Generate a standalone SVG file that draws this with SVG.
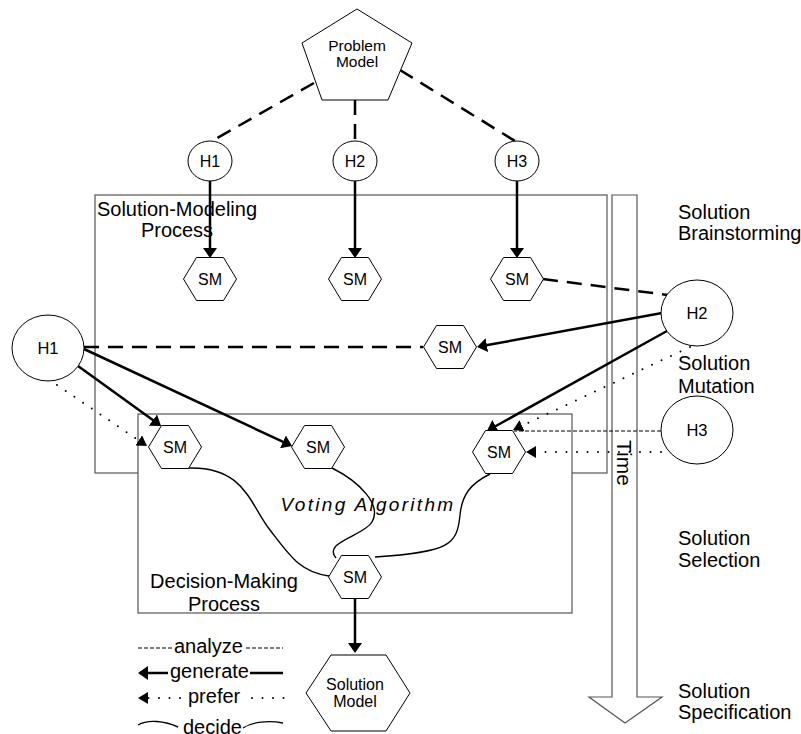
<svg xmlns="http://www.w3.org/2000/svg" width="801" height="734" viewBox="0 0 801 734">
<defs>
<style>
text{font-family:"Liberation Sans",Arial,sans-serif;fill:#000}
.lbl{font-size:20px}
.mid{text-anchor:middle}
.nd{font-size:16px;text-anchor:middle}
.shape{fill:#fff;stroke:#000;stroke-width:1}
.box{fill:none;stroke:#555;stroke-width:1.2}
.gen{fill:none;stroke:#000;stroke-width:2.5}
.hyp{fill:none;stroke:#000;stroke-width:2.5;stroke-dasharray:15 9}
.ana{fill:none;stroke:#000;stroke-width:1;stroke-dasharray:4 2}
.pref{fill:none;stroke:#000;stroke-width:2;stroke-dasharray:0 10.5;stroke-linecap:round}
.dec{fill:none;stroke:#000;stroke-width:1.4}
</style>
<marker id="ah" viewBox="0 0 10 14" refX="8" refY="7" markerWidth="10" markerHeight="14" markerUnits="userSpaceOnUse" orient="auto"><path d="M0,0L10,7L0,14z"/></marker>
<marker id="ap" viewBox="0 0 10 12" refX="10" refY="6" markerWidth="10" markerHeight="12" markerUnits="userSpaceOnUse" orient="auto"><path d="M0,0L10,6L0,12z"/></marker>
<polygon id="hex" points="-26.5,0 -13.5,-21.5 13.5,-21.5 26.5,0 13.5,21.5 -13.5,21.5"/>
</defs>

<!-- process containers -->
<g id="solution-modeling-process">
<rect class="box" x="95" y="195" width="512" height="278"/>
</g>
<g id="time-axis">
<polygon class="box" points="612,195 637,195 637,697 662,697 625,723 589,697 612,697"/>
<text transform="translate(617,463) rotate(90)" text-anchor="middle" style="font-size:21px">Time</text>
</g>
<g id="decision-making-process">
<rect class="box" x="138" y="414" width="434" height="199" style="fill:#fff"/>
</g>
<text class="lbl mid" x="177" y="216">Solution-Modeling</text>
<text class="lbl mid" x="177" y="237">Process</text>
<text class="lbl mid" x="224" y="588">Decision-Making</text>
<text class="lbl mid" x="224" y="611">Process</text>
<text x="368" y="511" text-anchor="middle" style="font-size:19px;font-style:italic;letter-spacing:2.3px">Voting Algorithm</text>

<!-- connectors -->
<g id="connectors">
<line class="hyp" x1="314" y1="83" x2="212" y2="141"/>
<line class="hyp" x1="355" y1="100" x2="355" y2="141"/>
<line class="hyp" x1="400" y1="70" x2="515" y2="141"/>
<line class="gen" x1="210" y1="181" x2="210" y2="256" marker-end="url(#ah)"/>
<line class="gen" x1="355" y1="181" x2="355" y2="256" marker-end="url(#ah)"/>
<line class="gen" x1="517" y1="181" x2="517" y2="256" marker-end="url(#ah)"/>
<line class="hyp" x1="543" y1="279" x2="668" y2="295"/>
<line class="hyp" x1="84" y1="347" x2="423" y2="347"/>
<line class="gen" x1="662" y1="313" x2="479" y2="346.6" marker-end="url(#ah)"/>
<line class="gen" x1="667" y1="331" x2="488.7" y2="430" marker-end="url(#ah)"/>
<line class="gen" x1="78" y1="366" x2="159.4" y2="424.8" marker-end="url(#ah)"/>
<line class="gen" x1="84" y1="349" x2="290.2" y2="445.2" marker-end="url(#ah)"/>
<line class="pref" x1="57" y1="385" x2="147" y2="446" marker-end="url(#ap)"/>
<line class="pref" x1="690" y1="347" x2="513" y2="430" marker-end="url(#ap)"/>
<line class="ana" x1="661" y1="431" x2="514" y2="431"/>
<line class="pref" x1="661" y1="452" x2="526" y2="452" marker-end="url(#ap)"/>
<path class="dec" d="M188,468 C245,466 250,505 270,530 C290,556 300,572 329,576"/>
<path class="dec" d="M332,468 C360,482 382,505 372,522 C364,536 322,542 336,558"/>
<path class="dec" d="M490,474 C470,484 462,495 460,515 C457,545 450,552 375,557"/>
<line class="gen" x1="355" y1="598" x2="355" y2="651" marker-end="url(#ah)"/>
</g>

<!-- nodes -->
<g id="problem-model">
<polygon class="shape" points="357,9 412,43 388,100 322,100 302,43"/>
<text class="nd" style="font-size:15.5px" x="357" y="51">Problem</text>
<text class="nd" style="font-size:15.5px" x="357" y="67">Model</text>
</g>
<g id="h1-top"><ellipse class="shape" cx="210" cy="161" rx="22" ry="20"/><text class="nd" x="210" y="167">H1</text></g>
<g id="h2-top"><ellipse class="shape" cx="355" cy="161" rx="22" ry="20"/><text class="nd" x="355" y="167">H2</text></g>
<g id="h3-top"><ellipse class="shape" cx="517" cy="161" rx="22" ry="20"/><text class="nd" x="517" y="167">H3</text></g>
<g id="sm-1"><use href="#hex" class="shape" transform="translate(210,279)"/><text class="nd" x="210" y="285">SM</text></g>
<g id="sm-2"><use href="#hex" class="shape" transform="translate(355,279)"/><text class="nd" x="355" y="285">SM</text></g>
<g id="sm-3"><use href="#hex" class="shape" transform="translate(517,279)"/><text class="nd" x="517" y="285">SM</text></g>
<g id="h1-left"><ellipse class="shape" cx="48" cy="348" rx="36" ry="33"/><text class="nd" style="font-size:16.5px" x="48" y="354">H1</text></g>
<g id="h2-right"><ellipse class="shape" cx="697" cy="313" rx="36" ry="33"/><text class="nd" style="font-size:16.5px" x="697" y="319">H2</text></g>
<g id="h3-right"><ellipse class="shape" cx="697" cy="430" rx="36" ry="34"/><text class="nd" style="font-size:16.5px" x="697" y="436">H3</text></g>
<g id="sm-4"><use href="#hex" class="shape" transform="translate(450,347)"/><text class="nd" x="450" y="353">SM</text></g>
<g id="sm-5"><use href="#hex" class="shape" transform="translate(175,447)"/><text class="nd" x="175" y="453">SM</text></g>
<g id="sm-6"><use href="#hex" class="shape" transform="translate(318,447)"/><text class="nd" x="318" y="453">SM</text></g>
<g id="sm-7"><use href="#hex" class="shape" transform="translate(499,452)"/><text class="nd" x="499" y="458">SM</text></g>
<g id="sm-8"><use href="#hex" class="shape" transform="translate(355,577)"/><text class="nd" x="355" y="583">SM</text></g>
<g id="solution-model">
<polygon class="shape" points="306,693 331,655 386,655 410,693 386,731 331,731"/>
<text class="nd" x="355" y="690">Solution</text>
<text class="nd" x="355" y="707">Model</text>
</g>

<!-- phase labels -->
<g id="phases" class="lbl">
<text x="678" y="219">Solution</text><text x="678" y="240">Brainstorming</text>
<text x="678" y="370">Solution</text><text x="678" y="393">Mutation</text>
<text x="678" y="545">Solution</text><text x="678" y="567">Selection</text>
<text x="678" y="698">Solution</text><text x="678" y="719">Specification</text>
</g>

<!-- legend -->
<g id="legend">
<line class="ana" x1="138" y1="648" x2="172" y2="648"/>
<text class="lbl" x="174" y="653">analyze</text>
<line class="ana" x1="246" y1="648" x2="283" y2="648"/>
<line class="gen" x1="168" y1="673" x2="140" y2="673" marker-end="url(#ah)"/>
<text class="lbl" x="170" y="678">generate</text>
<line class="gen" x1="250" y1="673" x2="283" y2="673"/>
<line class="pref" x1="180" y1="698" x2="138" y2="698" marker-end="url(#ap)"/>
<text class="lbl" x="188" y="703">prefer</text>
<line class="pref" x1="252" y1="698" x2="294" y2="698"/>
<path class="dec" d="M138,725 C148,719 165,721 178,727"/>
<text class="lbl" x="183" y="734">decide</text>
<path class="dec" d="M243,728 C252,722 268,720 283,723"/>
</g>
</svg>
